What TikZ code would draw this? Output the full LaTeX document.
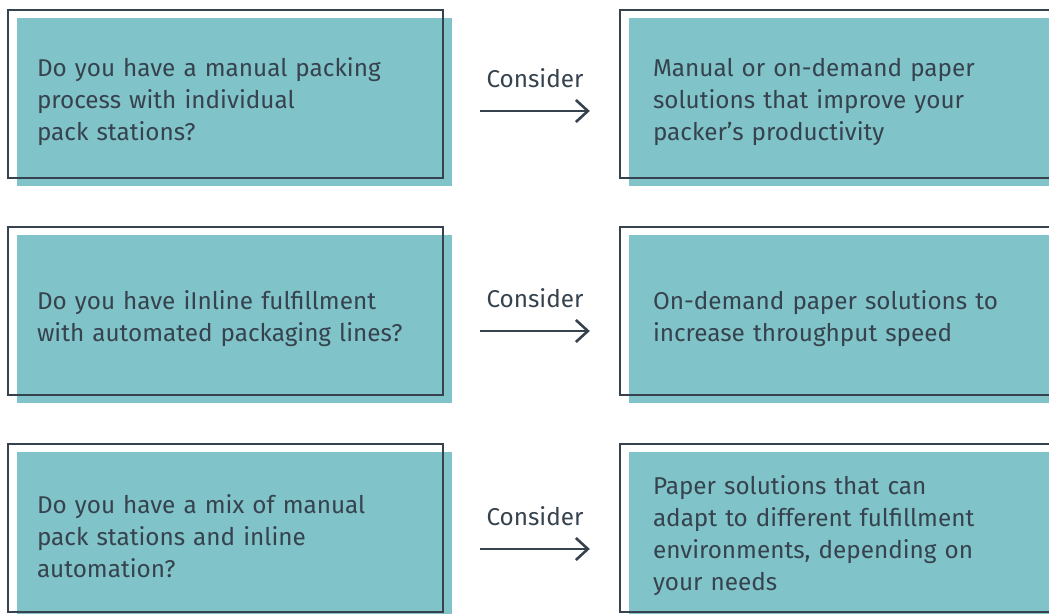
\documentclass[tikz,border=0pt]{standalone}
\usepackage{fontspec}
\setmainfont{Fira Sans}
\usetikzlibrary{arrows.meta}
\definecolor{boxteal}{HTML}{80C3C8}
\definecolor{slate}{HTML}{36434E}
\tikzstyle{qbox} = [rectangle, fill=boxteal, text=slate, inner xsep=20pt,
    text width=395pt, minimum height=168pt, align=left,
    font=\fontsize{24.3}{32}\selectfont]
\tikzstyle{abox} = [rectangle, fill=boxteal, text=slate, inner xsep=24pt,
    text width=387pt, minimum height=168pt, align=left,
    font=\fontsize{24.3}{32}\selectfont]
\tikzstyle{frame} = [draw=slate, line width=2.5pt]
\tikzstyle{line} = [draw=slate, line width=2.6pt, -{Straight Barb[length=12pt,width=22pt]}]

\begin{document}
\begin{tikzpicture}[x=1pt, y=1pt]
      \useasboundingbox (0,0) rectangle (1049,-613);
      \node [qbox] (q1) at (234.5, -102) {Do you have a manual packing\\process with individual\\pack stations?};
      \node [abox] (a1) at (846.5, -102) {Manual or on-demand paper\\solutions that improve your\\packer's productivity};
      \node [qbox] (q2) at (234.5, -319) {Do you have iInline fulfillment\\with automated packaging lines?};
      \node [abox] (a2) at (846.5, -319) {On-demand paper solutions to\\increase throughput speed};
      \node [qbox] (q3) at (234.5, -536) {Do you have a mix of manual\\pack stations and inline\\automation?};
      \node [abox] (a3) at (846.5, -536) {Paper solutions that can\\adapt to different fulfillment\\environments, depending on\\your needs};
      \foreach \b in {q1, a1, q2, a2, q3, a3}
        \path [frame] ([shift={(-9,8)}]\b.north west) rectangle ([shift={(-9,8)}]\b.south east);
      \foreach \r/\dy in {1/-9, 2/-12, 3/-13}
        \path [line] ([xshift=28pt, yshift=\dy pt]q\r.east) -- ([xshift=-39pt, yshift=\dy pt]a\r.west)
          node[midway, yshift=33pt, text=slate, font=\fontsize{24.3}{32}\selectfont] {Consider};
  \end{tikzpicture}
\end{document}
